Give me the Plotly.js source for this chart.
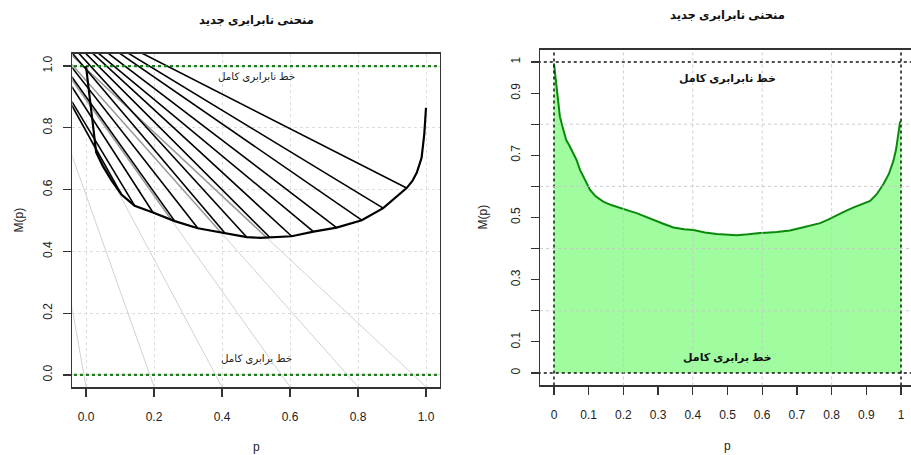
<!DOCTYPE html>
<html><head><meta charset="utf-8">
<script src="https://cdn.plot.ly/plotly-3.0.1.min.js"></script>
<style>html,body{margin:0;padding:0;background:#fff}#chart{width:911px;height:455px}</style>
</head><body><div id="chart"></div>
<script>
// ---- data ----
const leftP = [0, 0.03, 0.05, 0.075, 0.105, 0.143, 0.197, 0.261, 0.329, 0.409, 0.473, 0.512, 0.541, 0.605, 0.669, 0.737, 0.811, 0.874, 0.943, 0.96, 0.973, 0.987, 0.995, 1.0];
const leftM = [1.0, 0.72, 0.675, 0.63, 0.583, 0.548, 0.526, 0.498, 0.475, 0.459, 0.446, 0.444, 0.445, 0.449, 0.464, 0.477, 0.501, 0.540, 0.605, 0.628, 0.655, 0.703, 0.78, 0.865];

const rightP = [0, 0.005, 0.01, 0.017, 0.025, 0.035, 0.045, 0.056, 0.065, 0.075, 0.09, 0.104, 0.12, 0.142, 0.165, 0.19, 0.215, 0.238, 0.26, 0.286, 0.315, 0.344, 0.375, 0.402, 0.435, 0.469, 0.5, 0.526, 0.56, 0.594, 0.642, 0.68, 0.71, 0.74, 0.767, 0.79, 0.81, 0.835, 0.862, 0.885, 0.911, 0.93, 0.949, 0.965, 0.978, 0.986, 0.992, 0.997, 1.0];
const rightM = [0.996, 0.94, 0.89, 0.825, 0.79, 0.75, 0.73, 0.707, 0.685, 0.653, 0.62, 0.589, 0.568, 0.551, 0.54, 0.53, 0.522, 0.514, 0.505, 0.492, 0.48, 0.468, 0.462, 0.46, 0.452, 0.447, 0.445, 0.443, 0.446, 0.45, 0.453, 0.458, 0.466, 0.474, 0.482, 0.493, 0.505, 0.518, 0.532, 0.543, 0.553, 0.575, 0.607, 0.64, 0.682, 0.72, 0.768, 0.806, 0.81];

// black fan lines: point on the curve and slope
const fanP = [0.943, 0.874, 0.811, 0.737, 0.669, 0.605, 0.541, 0.473, 0.409, 0.329, 0.261, 0.197, 0.143, 0.105];
const fanM = [0.605, 0.540, 0.501, 0.477, 0.464, 0.449, 0.445, 0.446, 0.459, 0.475, 0.498, 0.526, 0.548, 0.583];
const fanSlope = [-0.561, -0.669, -0.759, -0.840, -0.913, -1.012, -1.10, -1.205, -1.297, -1.405, -1.543, -1.706, -1.826, -1.97];

// grey lines: crossing of M = 0 and slope
const grayX0 = [-0.006, 0.188, 0.381, 0.575, 0.769, 0.963];
const graySlope = [-6.2, -3.1, -2.07, -1.55, -1.24, -1.03];

const leftTicks = [0, 0.2, 0.4, 0.6, 0.8, 1.0];
const leftTickText = ['0.0', '0.2', '0.4', '0.6', '0.8', '1.0'];
const rightTicks = [0, 0.1, 0.2, 0.3, 0.4, 0.5, 0.6, 0.7, 0.8, 0.9, 1];
const rightXText = ['0', '0.1', '0.2', '0.3', '0.4', '0.5', '0.6', '0.7', '0.8', '0.9', '1'];
const rightYText = ['0', '0.1', '', '0.3', '', '0.5', '', '0.7', '', '0.9', '1'];
const rightGrid = [0.2, 0.4, 0.6, 0.8];
const refLevels = [0, 1];

const titleText = 'منحنی نابرابری جدید';
const topLabel = 'خط نابرابری کامل';
const bottomLabel = 'خط برابری کامل';
const yLabel = 'M(p)';
const xLabel = 'p';

// ---- build ----
const FAR_L = -0.6, FAR_R = 1.6;
const traces = [];
const line = (x, y, color, width, dash, xa, ya) => ({type: 'scatter', mode: 'lines', x, y, xaxis: xa || 'x', yaxis: ya || 'y',
  line: {color, width, dash: dash || 'solid'}, hoverinfo: 'skip', showlegend: false});

function grayCross(x0, s) {
  for (let j = 0; j < leftP.length - 1; j++) {
    const a = s * (leftP[j] - x0) - leftM[j];
    const b = s * (leftP[j + 1] - x0) - leftM[j + 1];
    if (a >= 0 && b < 0) {
      const t = a / (a - b);
      return leftP[j] + t * (leftP[j + 1] - leftP[j]);
    }
  }
  return null;
}

// grey lines (light below the curve, darker above)
grayX0.forEach((x0, i) => {
  const s = graySlope[i];
  traces.push(line([FAR_L, FAR_R], [s * (FAR_L - x0), s * (FAR_R - x0)], '#d2d2d2', 1));
});
grayX0.forEach((x0, i) => {
  const s = graySlope[i];
  const c = grayCross(x0, s);
  if (c !== null) traces.push(line([FAR_L, c], [s * (FAR_L - x0), s * (c - x0)], '#9a9a9a', 1.5));
});

// black fan lines
fanP.forEach((p, i) => {
  traces.push(line([FAR_L, p], [fanM[i] + fanSlope[i] * (FAR_L - p), fanM[i]], '#000', 1.6));
});

// green reference lines
refLevels.forEach(v => traces.push(line([FAR_L, FAR_R], [v, v], '#1e7b1e', 2.2, 'dot')));

// left curve
traces.push(line(leftP, leftM, '#000', 2.2));

// right panel
traces.push({type: 'scatter', mode: 'lines', x: rightP, y: rightM, xaxis: 'x2', yaxis: 'y2', fill: 'tozeroy',
  fillcolor: '#9ffc9f', line: {color: '#0a8a0a', width: 2}, hoverinfo: 'skip', showlegend: false});
refLevels.forEach(v => {
  traces.push(line([FAR_L, FAR_R], [v, v], '#111', 1.5, 'dot', 'x2', 'y2'));
  traces.push(line([v, v], [FAR_L, FAR_R], '#111', 1.5, 'dot', 'x2', 'y2'));
});

const tickFont = {family: 'Liberation Sans, Arial, sans-serif', size: 12, color: '#222'};
const axisCommon = {showline: true, linecolor: '#333', linewidth: 1.5, ticks: 'outside', ticklen: 8, tickwidth: 1.2,
  tickcolor: '#333', tickfont: tickFont, zeroline: false, gridcolor: '#dcdcdc', griddash: 'dot', gridwidth: 1,
  mirror: true, fixedrange: true};

const shapes = [];
rightGrid.forEach(v => {
  shapes.push({type: 'line', xref: 'x2', yref: 'y2 domain', x0: v, x1: v, y0: 0, y1: 1, layer: 'above',
    line: {color: 'rgba(200,200,200,0.9)', width: 1, dash: 'dot'}});
  shapes.push({type: 'line', xref: 'x2 domain', yref: 'y2', x0: 0, x1: 1, y0: v, y1: v, layer: 'above',
    line: {color: 'rgba(200,200,200,0.9)', width: 1, dash: 'dot'}});
});

const fa = 'Arial, "Liberation Sans", "DejaVu Sans", sans-serif';
const ann = (o) => Object.assign({showarrow: false, xanchor: 'center', yanchor: 'middle'}, o);
const annotations = [
  ann({text: '<b>' + titleText + '</b>', xref: 'x', yref: 'paper', x: 0.5, y: (455 - 21) / 455, font: {family: fa, size: 11.5, color: '#111'}}),
  ann({text: '<b>' + titleText + '</b>', xref: 'x2', yref: 'paper', x: 0.5, y: (455 - 15.5) / 455, font: {family: fa, size: 11.5, color: '#111'}}),
  ann({text: topLabel, xref: 'x', yref: 'y', x: 0.5, y: 0.966, font: {family: fa, size: 10.3, color: '#222'}}),
  ann({text: bottomLabel, xref: 'x', yref: 'y', x: 0.5, y: 0.051, font: {family: fa, size: 10.3, color: '#222'}}),
  ann({text: '<b>' + topLabel + '</b>', xref: 'x2', yref: 'y2', x: 0.5, y: 0.948, font: {family: fa, size: 11, color: '#111'}}),
  ann({text: '<b>' + bottomLabel + '</b>', xref: 'x2', yref: 'y2', x: 0.5, y: 0.05, font: {family: fa, size: 11, color: '#111'}}),
  ann({text: yLabel, xref: 'paper', yref: 'paper', x: 18 / 911, y: (455 - 220.5) / 455, textangle: -90, font: {family: fa, size: 12, color: '#222'}}),
  ann({text: yLabel, xref: 'paper', yref: 'paper', x: 483 / 911, y: (455 - 217.5) / 455, textangle: -90, font: {family: fa, size: 12, color: '#222'}}),
  ann({text: xLabel, xref: 'x', yref: 'paper', x: 0.5, y: (455 - 447) / 455, font: {family: fa, size: 12, color: '#222'}}),
  ann({text: xLabel, xref: 'x2', yref: 'paper', x: 0.5, y: (455 - 446) / 455, font: {family: fa, size: 12, color: '#222'}})
];

const layout = {
  width: 911, height: 455, margin: {l: 0, r: 0, t: 0, b: 0}, showlegend: false,
  paper_bgcolor: '#fff', plot_bgcolor: '#fff',
  xaxis: Object.assign({}, axisCommon, {domain: [72.4 / 911, 439.6 / 911], range: [-0.04, 1.04], tickvals: leftTicks, ticktext: leftTickText, anchor: 'y', ticklabelstandoff: 10}),
  yaxis: Object.assign({}, axisCommon, {domain: [(455 - 387.3) / 455, (455 - 53.7) / 455], range: [-0.04, 1.04], tickvals: leftTicks, ticktext: leftTickText, tickangle: -90, anchor: 'x', ticklabelstandoff: 6}),
  xaxis2: Object.assign({}, axisCommon, {domain: [540.1 / 911, 1], range: [-0.04, 1.0288], tickvals: rightTicks, ticktext: rightXText, anchor: 'y2', showgrid: false, ticklabelstandoff: 10}),
  yaxis2: Object.assign({}, axisCommon, {mirror: false, domain: [(455 - 385.4) / 455, (455 - 49.6) / 455], range: [-0.04, 1.04], tickvals: rightTicks, ticktext: rightYText, tickangle: -90, anchor: 'x2', showgrid: false, ticklabelstandoff: 6}),
  shapes, annotations
};

Plotly.newPlot('chart', traces, layout, {staticPlot: true, displayModeBar: false});
</script>
</body></html>
